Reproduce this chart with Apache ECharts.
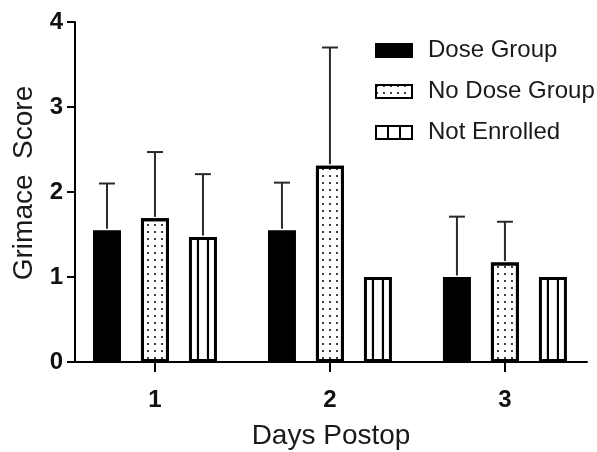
<!DOCTYPE html>
<html>
<head>
<meta charset="utf-8">
<script src="https://cdn.jsdelivr.net/npm/echarts@6/dist/echarts.min.js"></script>
<style>
html,body{margin:0;padding:0;background:#fff;}
#chart{width:597px;height:452px;}
</style>
</head>
<body>
<div id="chart"></div>
<script>
// ---- data ----
const days = [1, 2, 3];
const tickLabels = ['1', '2', '3'];
const seriesNames = ['Dose Group', 'No Dose Group', 'Not Enrolled'];
const doseMean = [1.55, 1.55, 1.00];
const doseTop = [2.10, 2.11, 1.71];
const noDoseMean = [1.69, 2.31, 1.17];
const noDoseTop = [2.47, 3.70, 1.65];
const notEnrolledMean = [1.47, 1.00, 1.00];
const notEnrolledTop = [2.21, 1.00, 1.00];

// ---- layout constants ----
const FONT = 'Liberation Sans, Arial, Helvetica, sans-serif';
const BAR_W = 28;
const BORDER = 3;
const BAR_GAP = 0.714;
const STEP = BAR_W * (1 + BAR_GAP);

const means = [doseMean, noDoseMean, notEnrolledMean];
const tops = [doseTop, noDoseTop, notEnrolledTop];

const chart = echarts.init(document.getElementById('chart'), null, {renderer: 'canvas'});

const barSeries = seriesNames.map((name, k) => {
  const base = {
    name: name,
    type: 'bar',
    barWidth: BAR_W,
    barGap: (BAR_GAP * 100) + '%',
    data: days.map((d, i) => [d, means[k][i]]),
    z: 2,
    itemStyle: {
      color: '#fff',
      borderColor: '#000',
      borderWidth: BORDER
    },
    emphasis: {disabled: true}
  };
  if (k === 0) base.itemStyle.color = '#000';
  if (k === 1) {
    base.itemStyle.decal = {
      symbol: 'circle',
      symbolSize: 1,
      dashArrayX: [2, 5],
      dashArrayY: [2, 5],
      color: '#000',
      rotation: 0
    };
  }
  return base;
});

const errData = [];
seriesNames.forEach((n, k) => {
  days.forEach((d, i) => errData.push([d, means[k][i], tops[k][i], k]));
});

const errorSeries = {
  type: 'custom',
  name: 'err',
  z: 5,
  data: errData,
  encode: {x: 0, y: [1, 2]},
  renderItem: function (params, api) {
    const x = api.value(0), m = api.value(1), t = api.value(2), k = api.value(3);
    if (t <= m) return null;
    const p0 = api.coord([x, m]);
    const p1 = api.coord([x, t]);
    const cx = p0[0] + (k - 1) * STEP;
    const style = {stroke: '#2a2a2a', lineWidth: 2};
    return {
      type: 'group',
      children: [
        {type: 'line', shape: {x1: cx, y1: p0[1] - BORDER / 2, x2: cx, y2: p1[1]}, style: style},
        {type: 'line', shape: {x1: cx - 8, y1: p1[1], x2: cx + 8, y2: p1[1]}, style: style}
      ]
    };
  }
};

const stripeSeries = {
  type: 'custom',
  name: 'stripes',
  z: 4,
  data: days.map((d, i) => [d, notEnrolledMean[i]]),
  encode: {x: 0, y: 1},
  renderItem: function (params, api) {
    const x = api.value(0), m = api.value(1);
    const pTop = api.coord([x, m]);
    const pBot = api.coord([x, 0]);
    const cx = pTop[0] + STEP;
    const style = {stroke: '#000', lineWidth: 2.2};
    return {
      type: 'group',
      children: [-5, 5].map(o => ({
        type: 'line',
        shape: {x1: cx + o, y1: pTop[1], x2: cx + o, y2: pBot[1]},
        style: style
      }))
    };
  }
};

const option = {
  animation: false,
  backgroundColor: '#fff',
  grid: {left: 75, right: 10, top: 22, bottom: 90, containLabel: false, outerBoundsMode: 'none'},
  legend: {
    orient: 'vertical',
    left: 370,
    top: 33,
    itemWidth: 36,
    itemHeight: 13,
    itemGap: 16,
    selectedMode: false,
    data: [
      {name: seriesNames[0], icon: 'rect'},
      {name: seriesNames[1], icon: 'rect'},
      {name: seriesNames[2], icon: 'path://M0,0H36V13H0Z M12,0V13 M24,0V13'}
    ],
    textStyle: {
      fontFamily: FONT,
      fontSize: 24,
      color: '#1a1a1a',
      lineHeight: 25,
      padding: [0, 0, 0, 11]
    }
  },
  xAxis: {
    type: 'value',
    min: 0.543,
    max: 3.469,
    name: 'Days Postop',
    nameLocation: 'middle',
    nameGap: 60,
    nameTextStyle: {fontFamily: FONT, fontSize: 28, color: '#1a1a1a'},
    axisLine: {show: true, onZero: false, lineStyle: {color: '#000', width: 2}},
    axisTick: {show: true, customValues: days, length: 10, lineStyle: {color: '#000', width: 2}},
    axisLabel: {
      show: true,
      customValues: days,
      formatter: v => tickLabels[days.indexOf(v)],
      fontFamily: FONT,
      fontSize: 24,
      fontWeight: 'bold',
      color: '#111',
      margin: 26
    },
    splitLine: {show: false}
  },
  yAxis: {
    type: 'value',
    min: 0,
    max: 4,
    interval: 1,
    name: 'Grimace  Score',
    nameLocation: 'middle',
    nameGap: 37,
    nameRotate: 90,
    nameTextStyle: {fontFamily: FONT, fontSize: 28, color: '#1a1a1a', padding: [0, 0, 0, 18]},
    axisLine: {show: true, onZero: false, lineStyle: {color: '#000', width: 2}},
    axisTick: {show: true, length: 8, lineStyle: {color: '#000', width: 2}},
    axisLabel: {
      fontFamily: FONT,
      fontSize: 24,
      fontWeight: 'bold',
      color: '#111',
      margin: 12
    },
    splitLine: {show: false}
  },
  series: barSeries.concat([stripeSeries, errorSeries])
};

chart.setOption(option);
</script>
</body>
</html>
